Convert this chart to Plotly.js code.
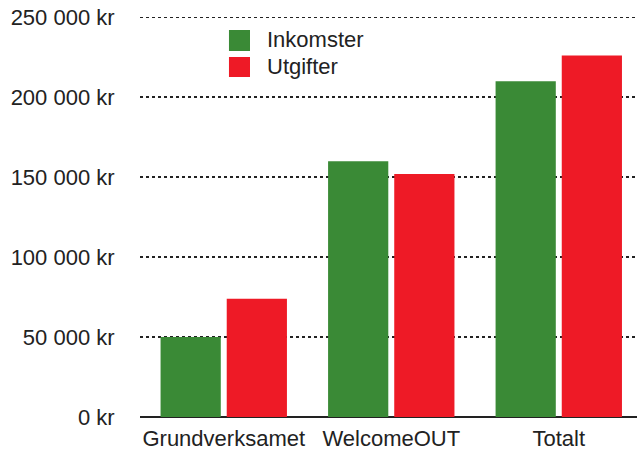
<!DOCTYPE html>
<html>
<head>
<meta charset="utf-8">
<script src="https://cdn.plot.ly/plotly-3.0.1.min.js"></script>
<style>html,body{margin:0;padding:0;background:#fff;overflow:hidden}</style>
</head>
<body>
<div id="chart" style="width:637px;height:450px"></div>
<script>
const categories = ["Grundverksamet", "WelcomeOUT", "Totalt"];
const inkomster = [50000, 160000, 210000];
const utgifter = [74000, 152000, 226000];
const seriesNames = ["Inkomster", "Utgifter"];
const seriesColors = ["#3a8a36", "#ee1a26"];
const yTickVals = [0, 50000, 100000, 150000, 200000, 250000];
const yTickText = ["0 kr", "50 000 kr", "100 000 kr", "150 000 kr", "200 000 kr", "250 000 kr"];

const font = "Liberation Sans, Arial, Helvetica, sans-serif";
const traces = [
  {type: "bar", name: seriesNames[0], x: categories, y: inkomster, marker: {color: seriesColors[0]}, showlegend: false},
  {type: "bar", name: seriesNames[1], x: categories, y: utgifter, marker: {color: seriesColors[1]}, showlegend: false}
];

// Manual legend (larger swatches, tighter spacing like the original)
const legendRows = [
  {sy0: 0.9603, sy1: 0.9082, ty: 0.9355},
  {sy0: 0.8933, sy1: 0.8437, ty: 0.8685}
];
const shapes = legendRows.map((r, i) => ({
  type: "rect", xref: "paper", yref: "paper", x0: 0.179, x1: 0.2213, y0: r.sy1, y1: r.sy0,
  fillcolor: seriesColors[i], line: {width: 0}
}));
const annotations = legendRows.map((r, i) => ({
  xref: "paper", yref: "paper", x: 0.2515, y: r.ty, xanchor: "left", yanchor: "middle",
  text: seriesNames[i], showarrow: false, font: {size: 22, color: "#222"}
}));

const layout = {
  width: 637, height: 450,
  margin: {l: 140, r: 0, t: 14, b: 33},
  paper_bgcolor: "#fff", plot_bgcolor: "#fff",
  font: {family: font, size: 22, color: "#222"},
  barmode: "group", bargap: 0.21, bargroupgap: 0.09,
  showlegend: false,
  shapes: shapes,
  annotations: annotations,
  xaxis: {range: [-0.5, 2.467], showgrid: false, showline: false, ticks: "outside", ticklen: 2, tickcolor: "rgba(0,0,0,0)", tickfont: {size: 22}},
  yaxis: {range: [0, 252000], tickmode: "array", tickvals: yTickVals, ticktext: yTickText, showgrid: true, gridcolor: "#222", griddash: "dot", gridwidth: 1.4,
          zeroline: true, zerolinecolor: "#222", zerolinewidth: 2, showline: false, ticks: "outside", ticklen: 20, tickcolor: "rgba(0,0,0,0)", tickfont: {size: 22}}
};
Plotly.newPlot("chart", traces, layout, {displayModeBar: false, staticPlot: true});
</script>
</body>
</html>
